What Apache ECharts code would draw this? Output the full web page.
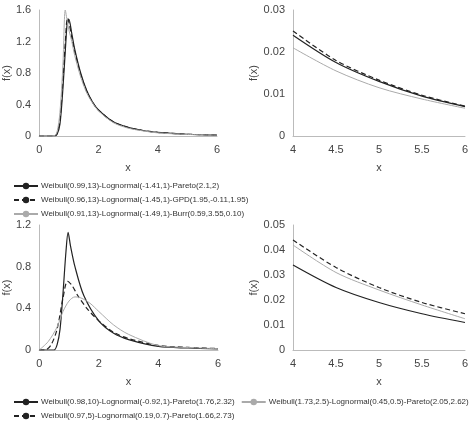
<!DOCTYPE html>
<html><head><meta charset="utf-8">
<script src="https://cdn.jsdelivr.net/npm/echarts@6/dist/echarts.min.js"></script>
<style>html,body{margin:0;background:#fff}#c{width:474px;height:435px}</style>
</head><body><div id="c"></div>
<script>
// Noms des séries
const namesTop = ['Weibull(0.99,13)-Lognormal(-1.41,1)-Pareto(2.1,2)',
  'Weibull(0.96,13)-Lognormal(-1.45,1)-GPD(1.95,-0.11,1.95)',
  'Weibull(0.91,13)-Lognormal(-1.49,1)-Burr(0.59,3.55,0.10)'];
const namesBot = ['Weibull(0.98,10)-Lognormal(-0.92,1)-Pareto(1.76,2.32)',
  'Weibull(0.97,5)-Lognormal(0.19,0.7)-Pareto(1.66,2.73)',
  'Weibull(1.73,2.5)-Lognormal(0.45,0.5)-Pareto(2.05,2.62)'];

// Panneau haut gauche
const tlA = [[0,0],[0.5,0],[0.6,0.02],[0.7,0.15],[0.8,0.6],[0.9,1.2],[0.95,1.45],[1.0,1.48],[1.1,1.3],[1.2,1.1],[1.4,0.8],[1.6,0.58],[1.8,0.43],[2,0.33],[2.5,0.18],[3,0.11],[3.5,0.07],[4,0.045],[5,0.022],[6,0.012]];
const tlB = [[0,0],[0.5,0],[0.6,0.03],[0.7,0.2],[0.8,0.7],[0.9,1.3],[0.95,1.5],[1.0,1.45],[1.1,1.25],[1.2,1.07],[1.4,0.78],[1.6,0.57],[1.8,0.43],[2,0.33],[2.5,0.18],[3,0.11],[3.5,0.07],[4,0.046],[5,0.023],[6,0.012]];
const tlC = [[0,0],[0.5,0],[0.6,0.05],[0.7,0.3],[0.8,0.9],[0.88,1.6],[0.95,1.45],[1.0,1.35],[1.1,1.2],[1.2,1.02],[1.4,0.75],[1.6,0.55],[1.8,0.42],[2,0.32],[2.5,0.17],[3,0.1],[3.5,0.065],[4,0.04],[5,0.02],[6,0.011]];
// Panneau haut droit (queue)
const tailX = [4,4.5,5,5.5,6];
const trA = [0.024,0.0175,0.013,0.0095,0.007];
const trB = [0.025,0.018,0.0133,0.0097,0.0071];
const trC = [0.021,0.0155,0.0115,0.0088,0.0066];
// Panneau bas gauche
const blA = [[0,0],[0.5,0],[0.6,0.05],[0.7,0.2],[0.8,0.55],[0.9,0.95],[0.97,1.13],[1.05,1.0],[1.2,0.8],[1.5,0.52],[2,0.28],[2.5,0.16],[3,0.1],[4,0.034],[5,0.019],[6,0.011]];
const blB = [[0,0],[0.2,0],[0.4,0.05],[0.6,0.2],[0.8,0.5],[0.95,0.66],[1.1,0.62],[1.3,0.52],[1.6,0.4],[2,0.28],[2.5,0.17],[3,0.11],[4,0.044],[5,0.025],[6,0.0145]];
const blC = [[0,0],[0.3,0.08],[0.6,0.22],[0.8,0.37],[1.0,0.47],[1.2,0.51],[1.4,0.5],[1.7,0.45],[2,0.37],[2.5,0.24],[3,0.15],[4,0.042],[5,0.024],[6,0.0125]];
// Panneau bas droit (queue)
const brA = [0.034,0.025,0.019,0.0145,0.011];
const brB = [0.044,0.033,0.025,0.019,0.0145];
const brC = [0.042,0.031,0.024,0.018,0.0125];

const styles = [
  {color:'#222', width:1.2, type:'solid'},
  {color:'#222', width:1.2, type:[5,3]},
  {color:'#aaa', width:1, type:'solid'}
];
const font = 'Liberation Sans';
const lbl = {color:'#444', fontSize:11, fontFamily:font};

function xAxis(i, min, max, interval) {
  return {gridIndex:i, type:'value', min, max, interval, name:'x', nameLocation:'middle', nameGap:26,
    nameTextStyle:lbl, axisLabel:{...lbl, margin:8}, axisLine:{lineStyle:{color:'#bbb'}}, axisTick:{show:false}, splitLine:{show:false}};
}
function yAxis(i, max, interval) {
  return {gridIndex:i, type:'value', min:0, max, interval, name:'f(x)', nameLocation:'middle', nameGap:25,
    nameTextStyle:lbl, axisLabel:lbl, axisLine:{show:true, lineStyle:{color:'#bbb'}}, axisTick:{show:false}, splitLine:{show:false}};
}
function serie(name, i, data, k) {
  return {name, type:'line', xAxisIndex:i, yAxisIndex:i, data, symbol:'none', smooth:0.3,
    lineStyle:styles[k], itemStyle:{color:styles[k].color}};
}
const zip = ys => tailX.map((x, j) => [x, ys[j]]);
const legendText = {fontSize:8, color:'#333', fontFamily:font, padding:[0,0,0,-2]};

const option = {
  animation:false,
  grid:[
    {left:38, top:10, width:179, height:126},
    {left:293, top:10, width:172, height:126},
    {left:39, top:225, width:179, height:125},
    {left:293, top:225, width:172, height:125}
  ],
  xAxis:[xAxis(0,0,6,2), xAxis(1,4,6,0.5), xAxis(2,0,6,2), xAxis(3,4,6,0.5)],
  yAxis:[yAxis(0,1.6,0.4), yAxis(1,0.03,0.01), yAxis(2,1.2,0.4), yAxis(3,0.05,0.01)],
  legend:[
    {data:namesTop, orient:'vertical', left:8, top:177, itemWidth:24, itemHeight:8, itemGap:6, textStyle:legendText},
    {data:namesBot, orient:'vertical', left:8, top:393, itemWidth:24, itemHeight:8, itemGap:6, textStyle:legendText}
  ],
  series:[
    serie(namesTop[0],0,tlA,0), serie(namesTop[1],0,tlB,1), serie(namesTop[2],0,tlC,2),
    serie(namesTop[0],1,zip(trA),0), serie(namesTop[1],1,zip(trB),1), serie(namesTop[2],1,zip(trC),2),
    serie(namesBot[0],2,blA,0), serie(namesBot[1],2,blB,1), serie(namesBot[2],2,blC,2),
    serie(namesBot[0],3,zip(brA),0), serie(namesBot[1],3,zip(brB),1), serie(namesBot[2],3,zip(brC),2)
  ]
};
echarts.init(document.getElementById('c')).setOption(option);
</script></body></html>
